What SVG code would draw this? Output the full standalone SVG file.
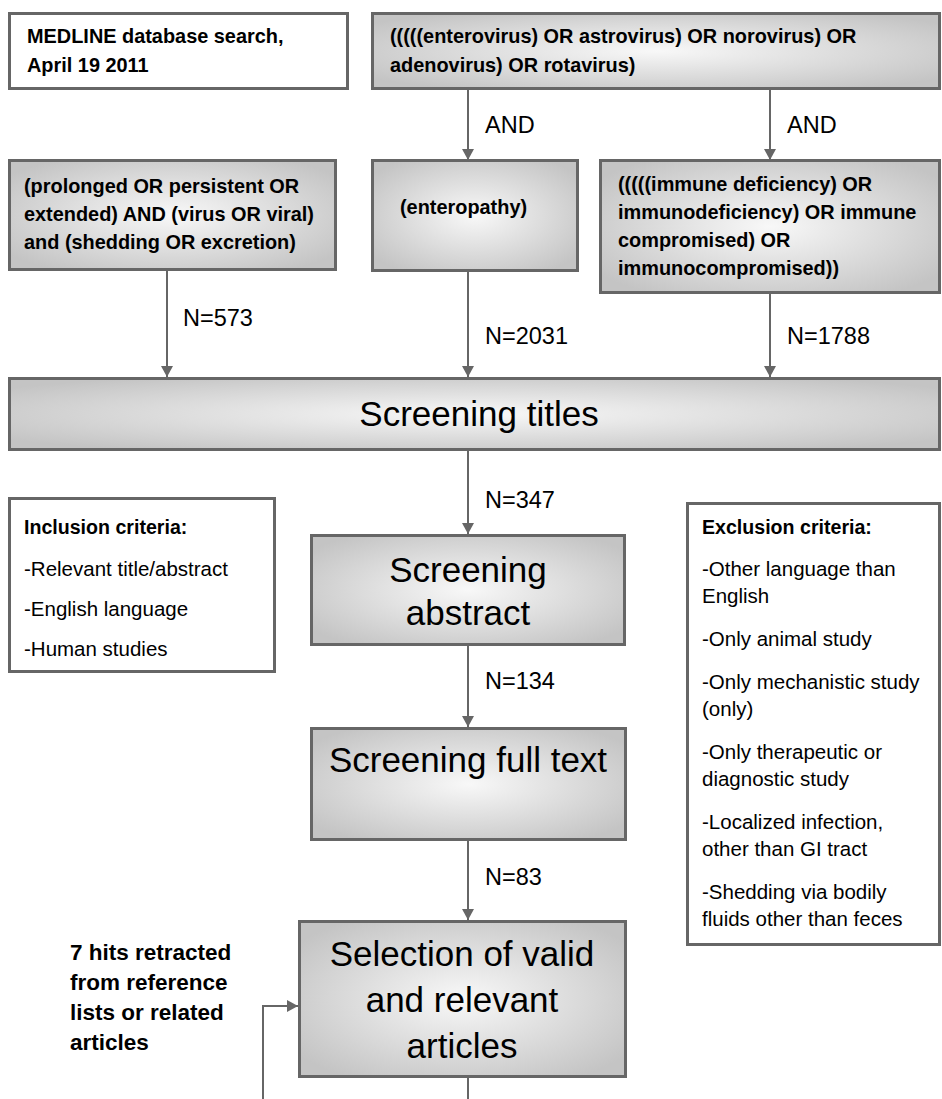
<svg xmlns="http://www.w3.org/2000/svg" width="942" height="1099" viewBox="0 0 942 1099">
<defs>
<radialGradient id="g" cx="0.5" cy="0.5" r="0.62">
<stop offset="0" stop-color="#f8f8f8"/>
<stop offset="1" stop-color="#c4c4c4"/>
</radialGradient>
<marker id="ah" markerUnits="userSpaceOnUse" markerWidth="12" markerHeight="12" refX="11" refY="6" orient="auto">
<path d="M0,0 L11,6 L0,12 z" fill="#666"/>
</marker>
<style>
.box{fill:url(#g);stroke:#666;stroke-width:3}
.wbox{fill:#fff;stroke:#666;stroke-width:3}
text{font-family:"Liberation Sans",Arial,sans-serif;fill:#000}
.b{font-weight:bold;font-size:19.9px}
.lbl{font-size:23.5px}
.big{font-size:35px;text-anchor:middle}
.crit{font-size:20.5px}
.cb{font-size:19.6px;font-weight:bold}
.hits{font-size:22.5px;font-weight:bold}
.c{fill:none;stroke:#666;stroke-width:2}
</style>
</defs>
<g id="connectors">
<line class="c" x1="468" y1="89" x2="468" y2="160" marker-end="url(#ah)"/>
<line class="c" x1="770" y1="89" x2="770" y2="160" marker-end="url(#ah)"/>
<text class="lbl" x="485" y="133">AND</text>
<text class="lbl" x="787" y="133">AND</text>
<line class="c" x1="167" y1="270" x2="167" y2="377" marker-end="url(#ah)"/>
<line class="c" x1="468" y1="271" x2="468" y2="377" marker-end="url(#ah)"/>
<line class="c" x1="770" y1="293" x2="770" y2="377" marker-end="url(#ah)"/>
<text class="lbl" x="183" y="326">N=573</text>
<text class="lbl" x="485" y="344">N=2031</text>
<text class="lbl" x="787" y="344">N=1788</text>
<line class="c" x1="468" y1="450" x2="468" y2="534" marker-end="url(#ah)"/>
<text class="lbl" x="485" y="508">N=347</text>
<line class="c" x1="468" y1="645" x2="468" y2="727" marker-end="url(#ah)"/>
<text class="lbl" x="485" y="689">N=134</text>
<line class="c" x1="468" y1="840" x2="468" y2="920" marker-end="url(#ah)"/>
<text class="lbl" x="485" y="885">N=83</text>
<line class="c" x1="468" y1="1077" x2="468" y2="1099"/>
<polyline class="c" points="263,1099 263,1006 298,1006" marker-end="url(#ah)"/>
</g>
<g id="medline">
<rect class="wbox" x="9.5" y="13.5" width="338" height="75"/>
<text class="b" x="27" y="43">MEDLINE database search,</text>
<text class="b" x="27" y="72">April 19 2011</text>
</g>
<g id="search-terms">
<rect class="box" x="372.5" y="13.5" width="567" height="75"/>
<text class="b" x="390" y="43">(((((enterovirus) OR astrovirus) OR norovirus) OR</text>
<text class="b" x="390" y="72">adenovirus) OR rotavirus)</text>
</g>
<g id="prolonged">
<rect class="box" x="9.5" y="160.5" width="326" height="109"/>
<text class="b" x="24" y="193">(prolonged OR persistent OR</text>
<text class="b" x="24" y="221">extended) AND (virus OR viral)</text>
<text class="b" x="24" y="249">and (shedding OR excretion)</text>
</g>
<g id="enteropathy">
<rect class="box" x="372.5" y="160.5" width="205" height="110"/>
<text class="b" x="400" y="214">(enteropathy)</text>
</g>
<g id="immune">
<rect class="box" x="600.5" y="160.5" width="339" height="132"/>
<text class="b" x="618" y="191">(((((immune deficiency) OR</text>
<text class="b" x="618" y="219">immunodeficiency) OR immune</text>
<text class="b" x="618" y="247">compromised) OR</text>
<text class="b" x="618" y="275">immunocompromised))</text>
</g>
<g id="screening-titles">
<rect class="box" x="9.5" y="378.5" width="930" height="71"/>
<text class="big" x="479" y="426">Screening titles</text>
</g>
<g id="inclusion">
<rect class="wbox" x="9.5" y="498.5" width="265" height="173"/>
<text class="cb" x="24" y="534">Inclusion criteria:</text>
<text class="crit" x="24" y="576">-Relevant title/abstract</text>
<text class="crit" x="24" y="616">-English language</text>
<text class="crit" x="24" y="656">-Human studies</text>
</g>
<g id="screening-abstract">
<rect class="box" x="311.5" y="535.5" width="313" height="109"/>
<text class="big" x="468" y="582">Screening</text>
<text class="big" x="468" y="625">abstract</text>
</g>
<g id="exclusion">
<rect class="wbox" x="687.5" y="503.5" width="252" height="441"/>
<text class="cb" x="702" y="534">Exclusion criteria:</text>
<text class="crit" x="702" y="576">-Other language than</text>
<text class="crit" x="702" y="603">English</text>
<text class="crit" x="702" y="646">-Only animal study</text>
<text class="crit" x="702" y="689">-Only mechanistic study</text>
<text class="crit" x="702" y="716">(only)</text>
<text class="crit" x="702" y="759">-Only therapeutic or</text>
<text class="crit" x="702" y="786">diagnostic study</text>
<text class="crit" x="702" y="829">-Localized infection,</text>
<text class="crit" x="702" y="856">other than GI tract</text>
<text class="crit" x="702" y="899">-Shedding via bodily</text>
<text class="crit" x="702" y="926">fluids other than feces</text>
</g>
<g id="screening-full-text">
<rect class="box" x="311.5" y="728.5" width="314" height="111"/>
<text class="big" x="468" y="772">Screening full text</text>
</g>
<g id="selection">
<rect class="box" x="299.5" y="921.5" width="326" height="155"/>
<text class="big" x="462" y="966">Selection of valid</text>
<text class="big" x="462" y="1012">and relevant</text>
<text class="big" x="462" y="1058">articles</text>
</g>
<g id="hits">
<text class="hits" x="70" y="960">7 hits retracted</text>
<text class="hits" x="70" y="990">from reference</text>
<text class="hits" x="70" y="1020">lists or related</text>
<text class="hits" x="70" y="1050">articles</text>
</g>
</svg>
